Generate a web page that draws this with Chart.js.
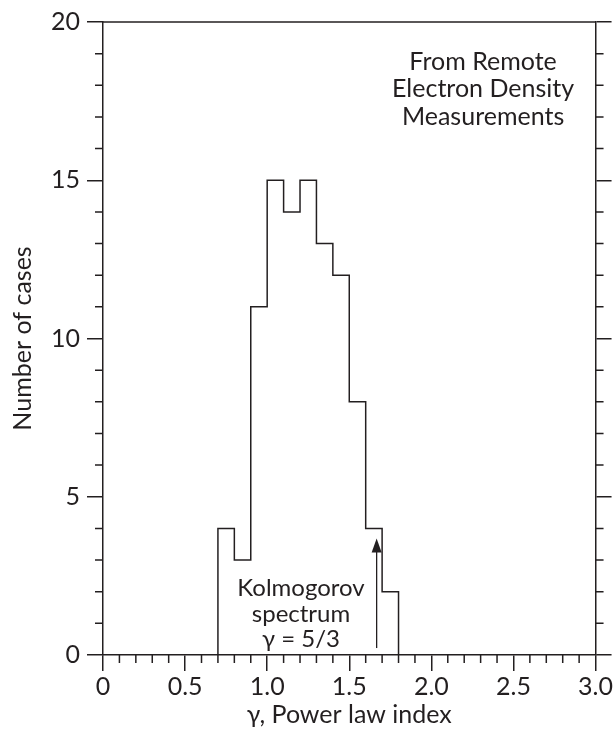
<!DOCTYPE html>
<html>
<head>
<meta charset="utf-8">
<script src="https://cdn.jsdelivr.net/npm/chart.js@4.4.1/dist/chart.umd.min.js"></script>
<style>
  body { margin: 0; background: #fff; }
  #wrap { width: 614px; height: 742px; }
</style>
</head>
<body>
<div id="wrap"><canvas id="histChart"></canvas></div>
<script>
// Dati dell'istogramma
const binEdges = [0.7, 0.8, 0.9, 1.0, 1.1, 1.2, 1.3, 1.4, 1.5, 1.6, 1.7, 1.8];
const caseCounts = [4, 3, 11, 15, 14, 15, 13, 12, 8, 4, 2];
const xTickLabels = ["0", "0.5", "1.0", "1.5", "2.0", "2.5", "3.0"];
const yTickLabels = ["0", "5", "10", "15", "20"];
const kolmogorovIndex = 5 / 3;
const noteLines = ["From Remote", "Electron Density", "Measurements"];
const arrowLines = ["Kolmogorov", "spectrum", "\u03b3 = 5/3"];

const INK = "#231f20";
const FONT = "Lato";

// punti a gradino: si parte da 0 e si torna a 0
const points = [{ x: binEdges[0], y: 0 }];
caseCounts.forEach((c, i) => points.push({ x: binEdges[i], y: c }));
points.push({ x: binEdges[binEdges.length - 1], y: 0 });

// Cornice, tacche minori e annotazioni
const extrasPlugin = {
  id: "extras",
  afterDraw(chart) {
    const { ctx, chartArea: a, scales } = chart;
    const x = scales.x, y = scales.y;
    ctx.save();
    ctx.strokeStyle = INK;
    ctx.fillStyle = INK;
    ctx.lineWidth = 1.5;

    // bordo superiore
    ctx.beginPath();
    ctx.moveTo(a.left, a.top);
    ctx.lineTo(a.right, a.top);
    ctx.stroke();

    // tacche minori
    ctx.beginPath();
    for (let i = 1; i < 30; i++) {
      if (i % 5 === 0) continue;
      const px = x.getPixelForValue(i / 10);
      ctx.moveTo(px, a.bottom);
      ctx.lineTo(px, a.bottom + 8);
    }
    for (let j = 1; j < 20; j++) {
      if (j % 5 === 0) continue;
      const py = y.getPixelForValue(j);
      ctx.moveTo(a.left, py);
      ctx.lineTo(a.left - 8, py);
      ctx.moveTo(a.right, py);
      ctx.lineTo(a.right + 8, py);
    }
    ctx.stroke();

    // freccia Kolmogorov
    const ax = x.getPixelForValue(kolmogorovIndex);
    const yTail = y.getPixelForValue(0.22);
    const yTip = y.getPixelForValue(3.68);
    ctx.lineWidth = 1.3;
    ctx.beginPath();
    ctx.moveTo(ax, yTail);
    ctx.lineTo(ax, yTip + 12);
    ctx.stroke();
    ctx.beginPath();
    ctx.moveTo(ax, yTip);
    ctx.lineTo(ax - 5, yTip + 14);
    ctx.lineTo(ax + 5, yTip + 14);
    ctx.closePath();
    ctx.fill();

    // testi
    ctx.font = `24px ${FONT}`;
    ctx.textAlign = "center";
    ctx.textBaseline = "alphabetic";
    const kx = x.getPixelForValue(1.206);
    const kBase = y.getPixelForValue(1.86);
    arrowLines.forEach((t, i) => ctx.fillText(t, kx, kBase + i * 25.5));

    ctx.font = `25px ${FONT}`;
    const nx = x.getPixelForValue(2.315);
    const nBase = y.getPixelForValue(18.49);
    noteLines.forEach((t, i) => ctx.fillText(t, nx, nBase + i * 27.5));
    ctx.restore();
  },
};

const axisCommon = {
  grid: { drawOnChartArea: false, tickLength: 16, color: INK, lineWidth: 1.5 },
  border: { display: true, color: INK, width: 1.5 },
};

new Chart(document.getElementById("histChart"), {
  type: "line",
  data: {
    datasets: [
      {
        data: points,
        stepped: "before",
        borderColor: INK,
        borderWidth: 1.5,
        pointRadius: 0,
        fill: false,
      },
    ],
  },
  options: {
    responsive: true,
    maintainAspectRatio: false,
    animation: false,
    layout: { padding: { top: 20, left: 0, right: 0, bottom: 0 } },
    plugins: { legend: { display: false }, tooltip: { enabled: false } },
    scales: {
      x: {
        type: "linear",
        position: "bottom",
        min: 0,
        max: 3,
        ...axisCommon,
        ticks: {
          stepSize: 0.5,
          color: INK,
          font: { family: FONT, size: 25 },
          padding: 1,
          maxRotation: 0,
          callback: (v, i) => xTickLabels[i],
        },
        title: {
          display: true,
          text: "\u03b3, Power law index",
          color: INK,
          font: { family: FONT, size: 25 },
          padding: { top: 0, bottom: 12 },
        },
        afterFit: (s) => { s.height = 87; },
      },
      y: {
        position: "left",
        min: 0,
        max: 20,
        ...axisCommon,
        ticks: {
          stepSize: 5,
          color: INK,
          font: { family: FONT, size: 25 },
          padding: 7,
          callback: (v, i) => yTickLabels[i],
        },
        title: {
          display: true,
          text: "Number of cases",
          color: INK,
          font: { family: FONT, size: 25 },
          padding: { top: 8, bottom: 0 },
        },
        afterFit: (s) => { s.width = 103; },
      },
      y2: {
        position: "right",
        min: 0,
        max: 20,
        ...axisCommon,
        ticks: { stepSize: 5, display: false },
        afterFit: (s) => { s.width = 16; },
      },
    },
  },
  plugins: [extrasPlugin],
});
</script>
</body>
</html>
